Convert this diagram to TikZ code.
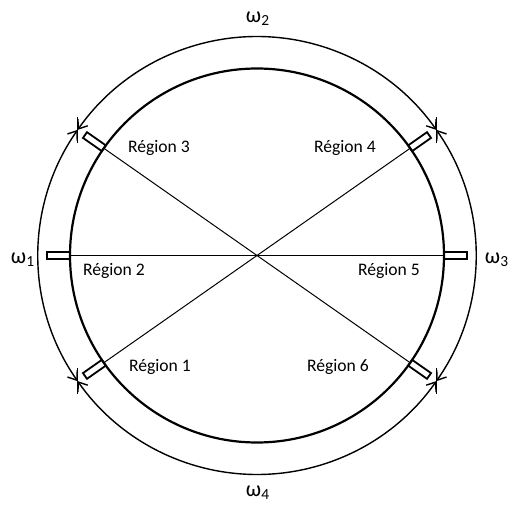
\documentclass[tikz,border=0pt]{standalone}
\usepackage{fontspec}
\setmainfont{Carlito}
\usetikzlibrary{arrows.meta}

\begin{document}
\begin{tikzpicture}[
    x=0.5pt, y=0.5pt,
    >={Straight Barb[length=4pt,width=6pt]},
    sensorBox/.style={
        rectangle,
        draw,
        line width=0.9pt,
        minimum width=11.5pt,
        minimum height=3.5pt,
        inner sep=0pt,
        rotate=#1
    },
    regionLabel/.style={
        font=\fontsize{8.8}{10}\selectfont
    },
    omegaLabel/.style={
        font=\fontsize{11}{12}\selectfont
    },
    flowArc/.style={
        <->,
        line width=0.7pt
    },
    tickLine/.style={
        line width=0.7pt
    }
]
\useasboundingbox (-257,-253.5) rectangle (253,255.5);

% Wheel
\node[circle, draw, line width=1.1pt, minimum size=187pt, inner sep=0pt] (wheel) at (0,0) {};

% Sensors on the rim
\foreach \a in {0,35,145,180,215,325} {
    \node[sensorBox=\a] (s\a) at (\a:198.5) {};
}

% Diameters
\draw[line width=0.5pt] (s180.west) -- (s0.west);
\draw[line width=0.5pt] (s145.west) -- (s325.west);
\draw[line width=0.5pt] (s215.west) -- (s35.west);

% Arc end points
\coordinate (p35) at (35:219);
\coordinate (p145) at (145:219);
\coordinate (p215) at (215:219);
\coordinate (p325) at (325:219);

% Ticks
\foreach \p in {p35,p145,p215,p325} {
    \draw[tickLine] ([yshift=6.5pt]\p) -- ([yshift=-6.5pt]\p);
}

% Arcs
\draw[flowArc] (p145) arc[start angle=145, end angle=35, radius=219];
\draw[flowArc] (p35) arc[start angle=35, end angle=-35, radius=219];
\draw[flowArc] (p325) arc[start angle=-35, end angle=-145, radius=219];
\draw[flowArc] (p215) arc[start angle=215, end angle=145, radius=219];

% Labels
\node[regionLabel] (r1) at (-97,-111) {Région 1};
\node[regionLabel] (r2) at (-143,-15) {Région 2};
\node[regionLabel] (r3) at (-98,108) {Région 3};
\node[regionLabel] (r4) at (88,108) {Région 4};
\node[regionLabel] (r5) at (132,-15) {Région 5};
\node[regionLabel] (r6) at (81,-111) {Région 6};

\node[omegaLabel] (w1) at (-234,-4) {ω\textsubscript{1}};
\node[omegaLabel] (w2) at (1,237) {ω\textsubscript{2}};
\node[omegaLabel] (w3) at (240,-4) {ω\textsubscript{3}};
\node[omegaLabel] (w4) at (1,-237) {ω\textsubscript{4}};

\end{tikzpicture}
\end{document}
